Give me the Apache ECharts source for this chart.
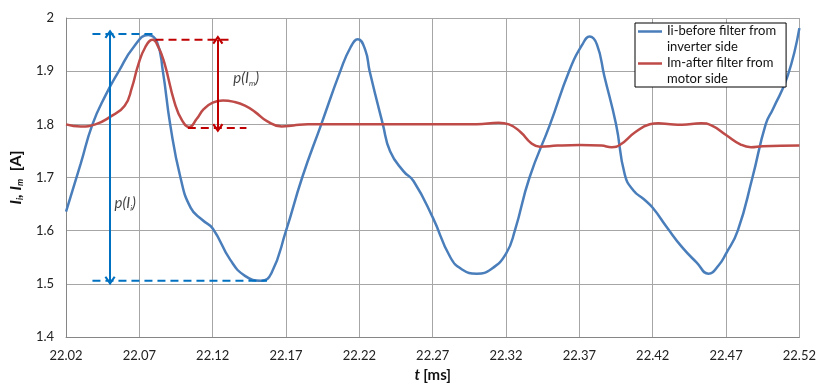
<!DOCTYPE html>
<html><head><meta charset="utf-8">
<script src="https://cdn.jsdelivr.net/npm/echarts@6/dist/echarts.min.js"></script>
<style>html,body{margin:0;padding:0;background:#fff}#c{width:819px;height:388px}</style>
</head><body><div id="c"></div>
<script>
// ---- data ----
const xTicks = [22.02,22.07,22.12,22.17,22.22,22.27,22.32,22.37,22.42,22.47,22.52];
const seriesNames = ['Ii-before filter from inverter side','Im-after filter from motor side'];
const iiT = [22.020,22.030,22.038,22.047,22.056,22.066,22.076,22.082,22.086,22.091,22.098,22.105,22.113,22.120,22.132,22.142,22.153,22.160,22.170,22.181,22.194,22.207,22.214,22.219,22.224,22.227,22.236,22.241,22.250,22.257,22.270,22.282,22.290,22.300,22.310,22.320,22.326,22.336,22.350,22.363,22.372,22.377,22.382,22.387,22.395,22.401,22.407,22.414,22.420,22.430,22.440,22.450,22.458,22.465,22.470,22.478,22.488,22.497,22.502,22.512,22.520];
const iiV = [1.636,1.726,1.800,1.855,1.900,1.945,1.968,1.955,1.900,1.800,1.700,1.643,1.620,1.604,1.545,1.515,1.506,1.520,1.600,1.700,1.800,1.900,1.945,1.960,1.940,1.900,1.800,1.749,1.712,1.693,1.625,1.550,1.527,1.519,1.528,1.557,1.600,1.700,1.800,1.900,1.950,1.965,1.950,1.891,1.800,1.705,1.675,1.659,1.643,1.605,1.569,1.540,1.519,1.535,1.557,1.600,1.700,1.800,1.829,1.891,1.981];
const imT = [22.020,22.030,22.040,22.050,22.060,22.065,22.069,22.074,22.079,22.083,22.087,22.094,22.099,22.104,22.109,22.114,22.120,22.127,22.135,22.142,22.149,22.157,22.167,22.175,22.185,22.220,22.260,22.300,22.315,22.322,22.330,22.337,22.343,22.355,22.370,22.385,22.392,22.398,22.408,22.418,22.424,22.432,22.440,22.453,22.460,22.470,22.480,22.487,22.495,22.520];
const imV = [1.800,1.796,1.800,1.814,1.835,1.870,1.910,1.945,1.959,1.945,1.916,1.841,1.808,1.795,1.810,1.829,1.841,1.845,1.842,1.835,1.823,1.806,1.796,1.798,1.800,1.800,1.800,1.800,1.803,1.800,1.785,1.765,1.758,1.760,1.761,1.760,1.757,1.762,1.785,1.800,1.802,1.800,1.799,1.802,1.798,1.780,1.762,1.757,1.759,1.760];
// annotation geometry in data units
const blueTopDash = [[22.038,1.970],[22.081,1.970]];
const blueBotDash = [[22.038,1.506],[22.157,1.506]];
const blueArrow = [[22.050,1.970],[22.050,1.506]];
const redTopDash = [[22.081,1.959],[22.134,1.959]];
const redBotDash = [[22.103,1.793],[22.143,1.793]];
const redArrow = [[22.1235,1.959],[22.1235,1.793]];
const labelIi = [22.053,1.652];
const labelIm = [22.1340,1.886];

const zip = (a,b)=>a.map((t,i)=>[t,b[i]]);
const FONT = 'Lato';
const BLUE = '#4A7EBB', RED = '#BE4B48', ABLUE = '#0070C0', ARED = '#C00000';
const chevron = 'path://M5,0 L10,8 L8.4,9.2 L5,3.8 L1.6,9.2 L0,8 Z';
const legIcon = 'path://M0,7 L25,7 L25,9.6 L0,9.6 Z M0,0 L0.05,0 L0.05,0.05 Z M0,32 L0.05,32 L0.05,32.05 Z';

function dash(d, color){
  return {type:'line', data:d, symbol:'none', silent:true, legendHoverLink:false,
    lineStyle:{color:color, width:2, type:[8,5]}, z:5};
}
function arrow(d, color){
  return {type:'line', data:[], symbol:'none', silent:true,
    markLine:{silent:true, symbol:[chevron, chevron], symbolSize:[11,9], label:{show:false},
      lineStyle:{color:color, width:2, type:'solid'},
      emphasis:{disabled:true},
      data:[[{coord:d[0]},{coord:d[1]}]]}, z:5};
}
const subRich = {
  m:{fontFamily:FONT, fontSize:15, fontStyle:'italic', color:'#111', lineHeight:18, verticalAlign:'middle'},
  s:{fontFamily:FONT, fontSize:8, fontStyle:'italic', color:'#111', lineHeight:18, verticalAlign:'bottom'}
};
function label(p, sub){
  return {type:'scatter', data:[p], symbolSize:0, silent:true, z:6,
    label:{show:true, position:[0,0], align:'left', verticalAlign:'middle',
      formatter:'{m|p(I}{s|'+sub+'}{m|)}', rich:subRich}};
}

const chart = echarts.init(document.getElementById('c'), null, {renderer:'canvas'});
chart.setOption({
  animation:false,
  grid:{left:63, right:17, top:18, bottom:47, containLabel:false},
  legend:{
    orient:'vertical', left:635, top:23, width:145,
    data:seriesNames,
    backgroundColor:'#fff', borderColor:'#000', borderWidth:1,
    padding:[0,10,0,3], itemGap:0, itemWidth:24, itemHeight:32, icon:legIcon,
    formatter:n => n.replace(' from ', ' from\n'),
    textStyle:{fontFamily:FONT, fontSize:13, color:'#111', lineHeight:16},
    selectedMode:false
  },
  xAxis:{type:'value', min:22.02, max:22.52,
    name:'{b|t} {n|[ms]}', nameLocation:'middle', nameGap:31,
    nameTextStyle:{rich:{b:{fontFamily:FONT,fontSize:15,fontWeight:'bold',fontStyle:'italic',color:'#111'},
                         n:{fontFamily:FONT,fontSize:15,fontWeight:'bold',color:'#111'}}},
    axisLine:{show:true, lineStyle:{color:'#868686', width:1}},
    axisTick:{show:false, customValues:xTicks},
    axisLabel:{customValues:xTicks, formatter:v=>v.toFixed(2), margin:12,
      fontFamily:FONT, fontSize:13, color:'#222'},
    splitLine:{show:true, lineStyle:{color:'#a6a6a6', width:1}}
  },
  yAxis:{type:'value', min:1.4, max:2, interval:0.1,
    name:'{b|I}{s|i}{b|,} {b|I}{s|m}{n|  [A]}', nameLocation:'middle', nameGap:32, nameRotate:90,
    nameTextStyle:{rich:{
      b:{fontFamily:FONT,fontSize:16,fontWeight:'bold',fontStyle:'italic',color:'#111',lineHeight:18,verticalAlign:'middle'},
      s:{fontFamily:FONT,fontSize:9,fontWeight:'bold',fontStyle:'italic',color:'#111',lineHeight:18,verticalAlign:'bottom'},
      n:{fontFamily:FONT,fontSize:16,fontWeight:'bold',color:'#111',lineHeight:18,verticalAlign:'middle'}}},
    axisLine:{show:true, lineStyle:{color:'#868686', width:1}},
    axisTick:{show:false},
    axisLabel:{formatter:v=>String(+v.toFixed(1)), margin:12, fontFamily:FONT, fontSize:13, color:'#222'},
    splitLine:{show:true, lineStyle:{color:'#a6a6a6', width:1}}
  },
  series:[
    {name:seriesNames[0], type:'line', data:zip(iiT,iiV), smooth:0.5, symbol:'none',
      lineStyle:{color:BLUE, width:2.5}, itemStyle:{color:BLUE}, z:3},
    {name:seriesNames[1], type:'line', data:zip(imT,imV), smooth:0.5, symbol:'none',
      lineStyle:{color:RED, width:2.5}, itemStyle:{color:RED}, z:4},
    dash(blueTopDash, ABLUE), dash(blueBotDash, ABLUE), arrow(blueArrow, ABLUE),
    dash(redTopDash, ARED), dash(redBotDash, ARED), arrow(redArrow, ARED),
    label(labelIi,'i'), label(labelIm,'m')
  ]
});
</script></body></html>
